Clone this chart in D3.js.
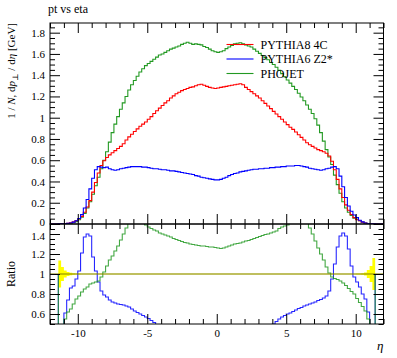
<!DOCTYPE html>
<html><head><meta charset="utf-8">
<script src="https://cdn.jsdelivr.net/npm/d3@7"></script>
<style>
body{margin:0;background:#fff}
svg{display:block}
text{font-family:"Liberation Serif","DejaVu Serif",serif;fill:#000}
</style></head>
<body><svg id="c" width="397" height="358"></svg>
<script>
// ---------- data ----------
const title = "pt vs eta";
const binLow = -12, binWidth = 0.2;           // 120 bins from -12 to 12
const ratioLow = -11.4;                        // ratio defined from -11.4 to 11.4 (114 bins)
const seriesNames = ["PYTHIA8 4C", "PYTHIA6 Z2*", "PHOJET"];
const seriesColors = ["#ff0000", "#0000ff", "#229922"];
const mainYTicks = [0, 0.2, 0.4, 0.6, 0.8, 1, 1.2, 1.4, 1.6, 1.8];
const ratioYTicks = [0.6, 0.8, 1, 1.2, 1.4];
const xTicks = [-10, -5, 0, 5, 10];

const pythia8 = [
 0,0,0,0.001,0.002,0.004,0.007,0.012,0.02,0.032,
 0.05,0.072,0.11,0.16,0.22,0.30,0.39,0.48,0.55,0.595,
 0.625,0.65,0.67,0.69,0.71,0.73,0.755,0.79,0.82,0.845,
 0.87,0.895,0.92,0.94,0.96,0.985,1.01,1.04,1.065,1.09,
 1.115,1.14,1.16,1.185,1.205,1.225,1.24,1.255,1.265,1.275,
 1.285,1.29,1.30,1.31,1.315,1.305,1.295,1.285,1.28,1.275,
 1.28,1.285,1.29,1.295,1.30,1.305,1.31,1.315,1.32,1.31,
 1.285,1.265,1.245,1.225,1.205,1.185,1.16,1.135,1.11,1.085,
 1.06,1.035,1.01,0.985,0.96,0.935,0.91,0.89,0.865,0.84,
 0.815,0.79,0.765,0.745,0.73,0.715,0.70,0.69,0.68,0.665,
 0.64,0.59,0.51,0.42,0.33,0.25,0.18,0.13,0.09,0.06,
 0.04,0.03,0.018,0.01,0.005,0.002,0.001,0,0,0];
const pythia6 = [
 0,0,0,0.001,0.002,0.003,0.006,0.01,0.018,0.03,
 0.052,0.088,0.15,0.23,0.33,0.43,0.51,0.54,0.535,0.53,
 0.535,0.52,0.51,0.505,0.51,0.52,0.525,0.53,0.535,0.54,
 0.54,0.54,0.54,0.535,0.535,0.53,0.525,0.52,0.52,0.515,
 0.51,0.51,0.505,0.50,0.50,0.495,0.49,0.485,0.48,0.475,
 0.47,0.465,0.455,0.45,0.44,0.435,0.43,0.425,0.42,0.415,
 0.415,0.42,0.43,0.44,0.455,0.465,0.475,0.48,0.49,0.495,
 0.50,0.505,0.51,0.515,0.515,0.52,0.52,0.525,0.525,0.53,
 0.53,0.535,0.535,0.54,0.54,0.545,0.545,0.545,0.55,0.55,
 0.545,0.54,0.535,0.525,0.52,0.515,0.51,0.505,0.51,0.52,
 0.525,0.535,0.54,0.52,0.45,0.35,0.25,0.17,0.12,0.085,
 0.06,0.035,0.02,0.01,0.005,0.002,0.001,0,0,0];
const phojet = [
 0,0,0,0.001,0.001,0.002,0.004,0.007,0.012,0.022,
 0.04,0.065,0.10,0.15,0.21,0.28,0.36,0.44,0.52,0.60,
 0.68,0.77,0.86,0.94,1.01,1.08,1.14,1.20,1.26,1.31,
 1.35,1.39,1.43,1.46,1.49,1.51,1.53,1.55,1.57,1.59,
 1.60,1.615,1.63,1.645,1.655,1.665,1.675,1.69,1.70,1.71,
 1.70,1.69,1.695,1.69,1.685,1.67,1.66,1.645,1.63,1.62,
 1.615,1.62,1.63,1.65,1.665,1.68,1.695,1.70,1.705,1.695,
 1.685,1.675,1.665,1.645,1.625,1.605,1.585,1.565,1.545,1.52,
 1.50,1.475,1.445,1.415,1.385,1.355,1.325,1.295,1.265,1.23,
 1.195,1.16,1.12,1.08,1.04,0.99,0.93,0.86,0.78,0.70,
 0.63,0.56,0.46,0.37,0.29,0.21,0.15,0.11,0.08,0.055,
 0.045,0.03,0.018,0.01,0.005,0.002,0.001,0,0,0];

// ratios to PYTHIA8 4C, bins from -11.4 to 11.4
const ratioPythia6 = [
 0.30,0.42,0.61,0.74,0.86,0.88,0.95,1.03,1.21,1.37,
 1.40,1.38,1.17,1.03,0.92,0.83,0.79,0.77,0.74,0.72,
 0.71,0.70,0.695,0.69,0.68,0.67,0.65,0.63,0.615,0.60,
 0.585,0.57,0.555,0.535,0.515,0.495,0.475,0.46,0.45,0.44,
 0.43,0.42,0.41,0.40,0.39,0.385,0.375,0.37,0.36,0.355,
 0.345,0.34,0.335,0.33,0.33,0.33,0.325,0.325,0.33,0.335,
 0.34,0.35,0.355,0.36,0.365,0.37,0.375,0.385,0.395,0.405,
 0.415,0.425,0.435,0.445,0.46,0.47,0.485,0.50,0.525,0.55,
 0.57,0.585,0.60,0.61,0.625,0.64,0.655,0.665,0.68,0.69,
 0.70,0.71,0.72,0.735,0.745,0.76,0.78,0.83,0.95,1.10,
 1.27,1.38,1.41,1.38,1.25,1.08,0.97,0.92,0.87,0.80,
 0.75,0.62,0.42,0.30];
const ratioPhojet = [
 0.30,0.42,0.55,0.62,0.65,0.70,0.75,0.78,0.82,0.85,
 0.87,0.90,0.91,0.92,0.93,0.97,1.02,1.08,1.14,1.18,
 1.23,1.28,1.34,1.40,1.46,1.52,1.56,1.58,1.58,1.55,
 1.51,1.49,1.47,1.455,1.44,1.43,1.41,1.40,1.39,1.38,
 1.37,1.355,1.345,1.335,1.325,1.315,1.31,1.30,1.295,1.29,
 1.285,1.28,1.28,1.275,1.27,1.27,1.265,1.26,1.255,1.26,
 1.27,1.28,1.29,1.30,1.305,1.31,1.32,1.33,1.335,1.345,
 1.355,1.365,1.375,1.385,1.395,1.40,1.41,1.42,1.43,1.455,
 1.47,1.48,1.49,1.51,1.54,1.57,1.58,1.57,1.55,1.51,
 1.46,1.40,1.33,1.26,1.20,1.14,1.07,1.01,0.97,0.955,
 0.945,0.93,0.91,0.885,0.855,0.825,0.80,0.755,0.715,0.675,
 0.63,0.55,0.42,0.30];
const refErr = [
 0.135,0.07,0.035,0.02,0.012,0.008,0.006,0.004,0.003,0.003,
 0.002,0.002,0.002,0.002,0.002,0.002,0.002,0.002,0.002,0.002,
 0.002,0.002,0.002,0.002,0.002,0.002,0.002,0.002,0.002,0.002,
 0.002,0.002,0.002,0.002,0.002,0.002,0.002,0.002,0.002,0.002,
 0.002,0.002,0.002,0.002,0.002,0.002,0.002,0.002,0.002,0.002,
 0.002,0.002,0.002,0.002,0.002,0.002,0.002,0.002,0.002,0.002,
 0.002,0.002,0.002,0.002,0.002,0.002,0.002,0.002,0.002,0.002,
 0.002,0.002,0.002,0.002,0.002,0.002,0.002,0.002,0.002,0.002,
 0.002,0.002,0.002,0.002,0.002,0.002,0.002,0.002,0.002,0.002,
 0.002,0.002,0.002,0.002,0.002,0.002,0.002,0.002,0.002,0.002,
 0.002,0.002,0.002,0.002,0.002,0.003,0.003,0.004,0.006,0.008,
 0.015,0.04,0.08,0.16];

// ---------- layout ----------
const L = 50, R = 383.5, T = 23, MB = 224, RB = 324;
const svg = d3.select("#c");
const x = d3.scaleLinear().domain([-12, 12]).range([L, R]);
const yM = d3.scaleLinear().domain([0, 1.891]).range([MB, T]);
const yR = d3.scaleLinear().domain([0.5, 1.5]).range([RB, MB]);

const defs = svg.append("defs");
defs.append("clipPath").attr("id","clipM").append("rect").attr("x",L).attr("y",T).attr("width",R-L).attr("height",MB-T);
defs.append("clipPath").attr("id","clipR").append("rect").attr("x",L).attr("y",MB).attr("width",R-L).attr("height",RB-MB);

function histPath(vals, start, ys){
  const p = d3.path();
  vals.forEach((v,i)=>{
    const x0 = x(start + i*binWidth), x1 = x(start + (i+1)*binWidth);
    if(i===0) p.moveTo(x0, ys(v)); else p.lineTo(x0, ys(v));
    p.lineTo(x1, ys(v));
  });
  return p.toString();
}
function ratioPath(vals){
  const p = d3.path();
  p.moveTo(x(ratioLow), yR(1));
  vals.forEach((v,i)=>{
    p.lineTo(x(ratioLow + i*binWidth), yR(v));
    p.lineTo(x(ratioLow + (i+1)*binWidth), yR(v));
  });
  p.lineTo(x(ratioLow + vals.length*binWidth), yR(1));
  return p.toString();
}

// ---------- main panel ----------
const gM = svg.append("g").attr("clip-path","url(#clipM)");
const mainSeries = [[phojet,2],[pythia8,0],[pythia6,1]];
mainSeries.forEach(([vals,k])=>{
  gM.append("path").attr("d", histPath(vals, binLow, yM))
    .attr("fill","none").attr("stroke", seriesColors[k]).attr("stroke-width",1.1);
});

// ---------- ratio panel ----------
const gR = svg.append("g").attr("clip-path","url(#clipR)");
const band = d3.area()
  .x(d=>x(d.x)).y0(d=>yR(1-d.e)).y1(d=>yR(1+d.e)).curve(d3.curveStepAfter);
const bandData = refErr.map((e,i)=>({x: ratioLow + i*binWidth, e}));
bandData.push({x: ratioLow + refErr.length*binWidth, e: refErr[refErr.length-1]});
gR.append("path").attr("d", band(bandData)).attr("fill","#ffff00").attr("stroke","none");
gR.append("path").attr("d", ratioPath(ratioPythia6)).attr("fill","none").attr("stroke",seriesColors[1]).attr("stroke-width",1.1).attr("stroke-opacity",0.85);
gR.append("path").attr("d", ratioPath(ratioPhojet)).attr("fill","none").attr("stroke",seriesColors[2]).attr("stroke-width",1.1).attr("stroke-opacity",0.85);
gR.append("line").attr("x1",L).attr("x2",R).attr("y1",yR(1)).attr("y2",yR(1)).attr("stroke","#808000").attr("stroke-width",1.1);

// ---------- axes ----------
const minorX = d3.range(-12, 13, 1).filter(v=>!xTicks.includes(v));
const minorYM = d3.range(0, 38, 1).map(v=>v*0.05).filter(v=>v<1.891 && !mainYTicks.some(t=>Math.abs(t-v)<1e-6));
const minorYR = d3.range(10, 31, 1).map(v=>v*0.05).filter(v=>!ratioYTicks.some(t=>Math.abs(t-v)<1e-6));

function styleAxis(g){ g.select(".domain").remove(); g.selectAll("line").attr("stroke","#000"); g.selectAll("text").attr("font-size",11).attr("font-family","Liberation Serif, serif"); }

function xAxes(yPos, dir, labels){
  const ax = dir==="bottom" ? d3.axisBottom(x) : d3.axisTop(x);
  svg.append("g").attr("transform",`translate(0,${yPos})`)
    .call(ax.tickValues(xTicks).tickSize(-10).tickPadding(labels?5:0).tickFormat(labels? (d=>String(d)) : ()=>""))
    .call(styleAxis);
  const ax2 = dir==="bottom" ? d3.axisBottom(x) : d3.axisTop(x);
  svg.append("g").attr("transform",`translate(0,${yPos})`)
    .call(ax2.tickValues(minorX).tickSize(-5).tickFormat(()=>""))
    .call(styleAxis);
}
xAxes(T, "top", false);
xAxes(MB, "bottom", false);
xAxes(MB, "top", false);
xAxes(RB, "bottom", true);

function yAxes(scale, major, minor, shiftFn){
  const g = svg.append("g").attr("transform",`translate(${L},0)`)
    .call(d3.axisLeft(scale).tickValues(major).tickSize(-10).tickPadding(5).tickFormat(d=>String(d))).call(styleAxis);
  g.selectAll(".tick text").attr("y", d=>shiftFn(d));
  svg.append("g").attr("transform",`translate(${L},0)`)
    .call(d3.axisLeft(scale).tickValues(minor).tickSize(-5).tickFormat(()=>"")).call(styleAxis);
  svg.append("g").attr("transform",`translate(${R},0)`)
    .call(d3.axisRight(scale).tickValues(major).tickSize(-10).tickFormat(()=>"")).call(styleAxis);
  svg.append("g").attr("transform",`translate(${R},0)`)
    .call(d3.axisRight(scale).tickValues(minor).tickSize(-5).tickFormat(()=>"")).call(styleAxis);
}
// small nudge so the main "0" and ratio "1.4" labels at the panel joint stay apart
yAxes(yM, mainYTicks, minorYM, d=> d===0 ? -2 : 0);
yAxes(yR, ratioYTicks, minorYR, d=> d===1.4 ? 1.5 : 0);

// frames
svg.append("rect").attr("x",L).attr("y",T).attr("width",R-L).attr("height",MB-T).attr("fill","none").attr("stroke","#000");
svg.append("rect").attr("x",L).attr("y",MB).attr("width",R-L).attr("height",RB-MB).attr("fill","none").attr("stroke","#000");

// ---------- legend ----------
const lg = svg.append("g");
seriesNames.forEach((n,i)=>{
  const yy = 44.5 + i*14.5;
  lg.append("line").attr("x1",226.5).attr("x2",253.5).attr("y1",yy).attr("y2",yy).attr("stroke",seriesColors[i]).attr("stroke-width",1.1);
  lg.append("text").attr("x",260.5).attr("y",yy+4).attr("font-size",12).text(n);
});

// ---------- texts ----------
svg.append("text").attr("x",L-2).attr("y",13).attr("font-size",12).text(title);
const yl = svg.append("text").attr("transform",`translate(15,${T}) rotate(-90)`).attr("text-anchor","end").attr("font-size",11);
yl.append("tspan").text("1 / ");
yl.append("tspan").attr("font-style","italic").text("N");
yl.append("tspan").text(", d");
yl.append("tspan").attr("font-style","italic").text("p");
yl.append("tspan").attr("font-size",8).attr("dy",3).text("⊥");
yl.append("tspan").attr("dy",-3).text(" / d");
yl.append("tspan").attr("font-style","italic").text("η");
yl.append("tspan").text(" [GeV]");
svg.append("text").attr("transform",`translate(15,274) rotate(-90)`).attr("text-anchor","middle").attr("font-size",12).text("Ratio");
svg.append("text").attr("x",R).attr("y",350).attr("text-anchor","end").attr("font-size",13).attr("font-style","italic").text("η");
</script>
</body></html>
